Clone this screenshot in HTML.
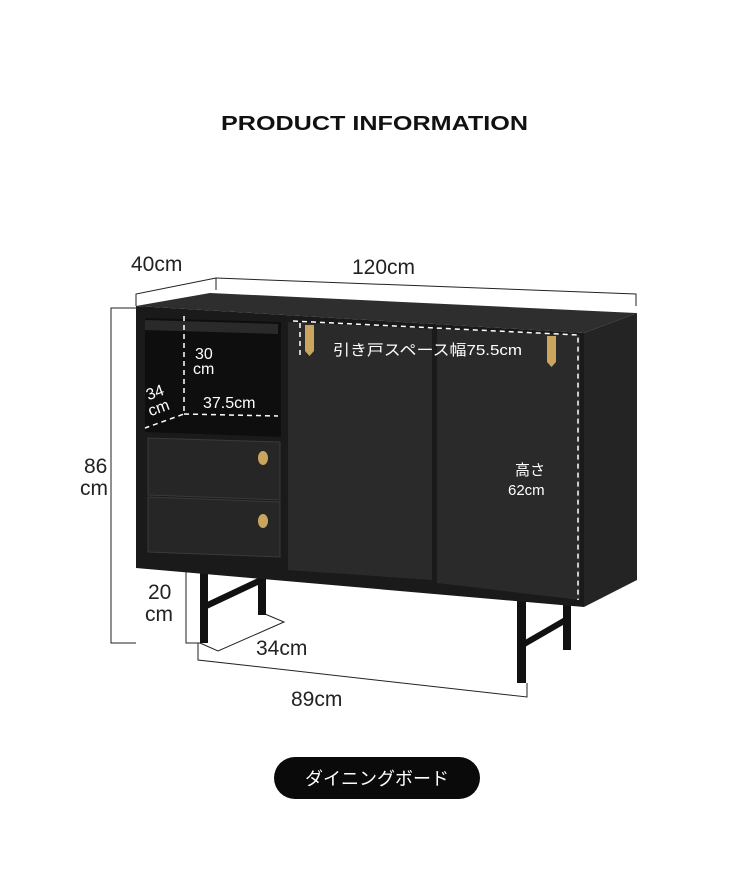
<!DOCTYPE html>
<html><head><meta charset="utf-8"><style>
body{margin:0;width:750px;height:882px;background:#fff;overflow:hidden}
svg{display:block}
text{font-family:"Liberation Sans","Noto Sans CJK JP",sans-serif}
</style></head><body>
<svg width="750" height="882" viewBox="0 0 750 882" xmlns="http://www.w3.org/2000/svg">
<text x="221" y="130" font-size="20" font-weight="bold" textLength="307" lengthAdjust="spacingAndGlyphs" fill="#111">PRODUCT INFORMATION</text>

<g stroke="#222" stroke-width="1" fill="none">
<polyline points="136,306 136,294 216,278 216,290"/>
<polyline points="216,278 636,294 636,306"/>
<polyline points="136,308 111,308 111,643 136,643"/>
<polyline points="200,569 186,569 186,643 200,643"/>
<polyline points="200,643 218,651 284,622 265,614"/>
<polyline points="198,643 198,660 527,697 527,683"/>
</g>
<text x="131" y="271" font-size="21" fill="#222">40cm</text>
<text x="352" y="274" font-size="21" fill="#222">120cm</text>
<text x="84" y="473" font-size="21" fill="#222">86</text>
<text x="80" y="495" font-size="21" fill="#222">cm</text>
<text x="148" y="599" font-size="21" fill="#222">20</text>
<text x="145" y="621" font-size="21" fill="#222">cm</text>
<text x="256" y="655" font-size="21" fill="#222">34cm</text>
<text x="291" y="706" font-size="21" fill="#222">89cm</text>

<g fill="#111">
<rect x="258" y="570" width="8" height="45"/>
<polygon points="207,602 258,578 258,585 207,609"/>
<rect x="200" y="566" width="8" height="77"/>
<rect x="563" y="600" width="8" height="50"/>
<polygon points="525,640 563,618 563,625 525,647"/>
<rect x="517" y="598" width="9" height="85"/>
</g>

<polygon points="136,306 210,293 637,313 584,333" fill="#2e2e2e"/>
<polygon points="584,333 637,313 637,580 584,607" fill="#242424"/>
<polygon points="136,306 584,333 584,607 136,568" fill="#1a1a1a"/>
<polygon points="145,318 281,322 281,437 145,432" fill="#0e0e0e"/>
<polygon points="145,320 278,324 278,334 145,330" fill="#2a2a2a"/>
<polygon points="148,438 280,442 280,500 148,495" fill="#262626" stroke="#3a3a3a" stroke-width="1"/>
<polygon points="148,497 280,502 280,557 148,552" fill="#262626" stroke="#3a3a3a" stroke-width="1"/>
<ellipse cx="263" cy="458" rx="5" ry="7" fill="#c9a55f"/>
<ellipse cx="263" cy="521" rx="5" ry="7" fill="#c9a55f"/>
<polygon points="288,322 432,329 432,580 288,570" fill="#2a2a2a"/>
<polygon points="437,329 580,335 580,600 437,583" fill="#2a2a2a"/>
<path d="M305 325 h9 v26 l-4.5 5 l-4.5 -5z" fill="#c9a55f"/>
<path d="M547 336 h9 v26 l-4.5 5 l-4.5 -5z" fill="#c9a55f"/>

<g stroke="#fff" stroke-width="1.5" fill="none" stroke-dasharray="5,4">
<polyline points="184,316 184,414 145,428"/>
<line x1="184" y1="414" x2="278" y2="416"/>
<polyline points="293,321 578,335 578,600"/>
<line x1="300" y1="323" x2="300" y2="355"/>
</g>
<g fill="#fff" font-size="16">
<text x="195" y="359">30</text><text x="193" y="374">cm</text>
<text x="148" y="398" transform="rotate(-20 155 398)">34</text>
<text x="150" y="414" transform="rotate(-20 157 414)">cm</text>
<text x="203" y="408">37.5cm</text>
<text x="333" y="355" font-size="15" textLength="189" lengthAdjust="spacingAndGlyphs">引き戸スペース幅75.5cm</text>
<text x="515" y="475" font-size="15">高さ</text>
<text x="508" y="495" font-size="15">62cm</text>
</g>

<rect x="274" y="757" width="206" height="42" rx="21" fill="#0a0a0a"/>
<text x="377" y="785" text-anchor="middle" font-size="18" fill="#fff">ダイニングボード</text>
</svg>
</body></html>
